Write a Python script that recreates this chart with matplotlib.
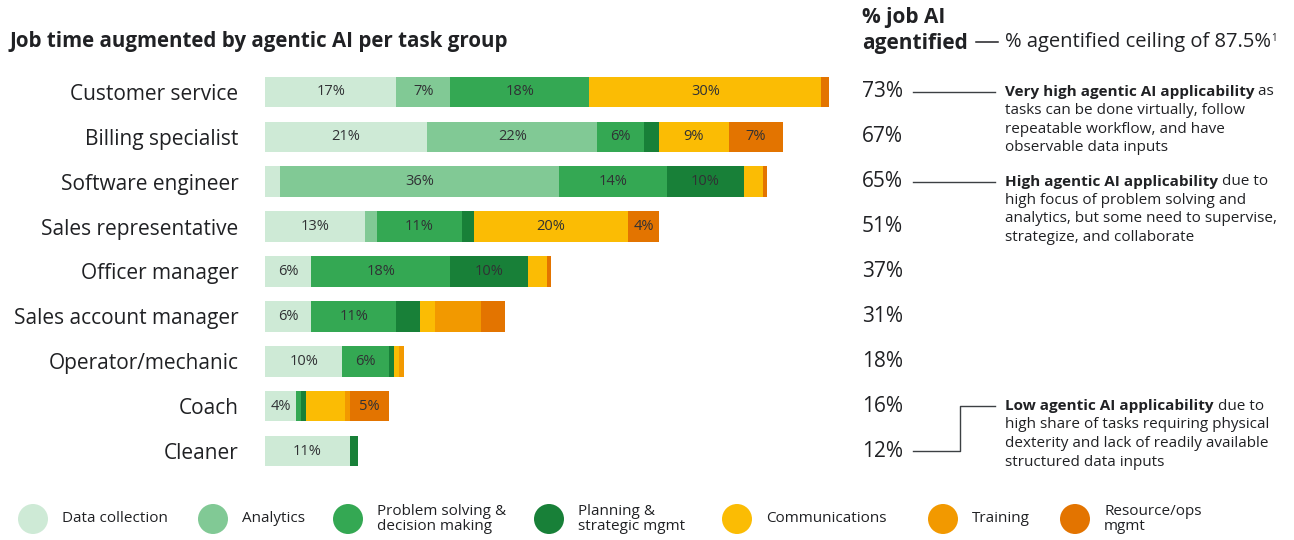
import matplotlib.pyplot as plt
import matplotlib.transforms as mtransforms
from matplotlib.patches import Ellipse

# job rows, top to bottom
categories = ["Customer service", "Billing specialist", "Software engineer", "Sales representative",
              "Officer manager", "Sales account manager", "Operator/mechanic", "Coach", "Cleaner"]

# share of job time per task group (%)
data_collection = [17, 21, 2, 13, 6, 6, 10, 4, 11]
analytics = [7, 22, 36, 1.5, 0, 0, 0, 0, 0]
problem_solving = [18, 6, 14, 11, 18, 11, 6, 0.7, 0]
planning = [0, 2, 10, 1.5, 10, 3, 0.7, 0.6, 1]
communications = [30, 9, 2.5, 20, 2.5, 2, 0.7, 5, 0]
training = [0, 0, 0, 0, 0, 6, 0.6, 0.7, 0]
resource_ops = [1, 7, 0.5, 4, 0.5, 3, 0, 5, 0]

job_ai_pct = [73, 67, 65, 51, 37, 31, 18, 16, 12]

group_names = ["Data collection", "Analytics", "Problem solving &\ndecision making", "Planning &\nstrategic mgmt",
               "Communications", "Training", "Resource/ops\nmgmt"]
group_colors = ["#CEEAD6", "#81C995", "#34A853", "#188038", "#FBBC04", "#F29900", "#E37400"]
series = [data_collection, analytics, problem_solving, planning, communications, training, resource_ops]

# rows where the segment carries a value label, per group
labeled_rows = [[0, 1, 3, 4, 5, 6, 7, 8], [0, 1, 2], [0, 1, 2, 3, 4, 5, 6], [2, 4], [0, 1, 3], [], [1, 3, 7]]

notes = [
    (0, "Very high agentic AI applicability", " as",
     ["tasks can be done virtually, follow", "repeatable workflow, and have", "observable data inputs"]),
    (2, "High agentic AI applicability", " due to",
     ["high focus of problem solving and", "analytics, but some need to supervise,", "strategize, and collaborate"]),
    (7, "Low agentic AI applicability", " due to",
     ["high share of tasks requiring physical", "dexterity and lack of readily available", "structured data inputs"]),
]

plt.rcParams['font.family'] = ['Open Sans', 'DejaVu Sans']
DARK = "#202124"
W, H = 1294, 540


def fx(px):
    return px / W


def fy(py):
    return 1 - py / H


fig = plt.figure(figsize=(W / 100, H / 100), dpi=100)
ax = fig.add_axes([fx(265), fy(473.5), 564 / W, 404 / H])

rows = list(range(len(categories)))
left = [0] * len(categories)
for vals, color, shown in zip(series, group_colors, labeled_rows):
    ax.barh(rows, vals, left=left, height=0.68, color=color, linewidth=0)
    for i in shown:
        ax.text(left[i] + vals[i] / 2, i, f"{vals[i]:g}%", ha="center", va="center",
                fontsize=10.5, color="#303134")
    left = [a + b for a, b in zip(left, vals)]

ax.set_xlim(0, 73)
ax.set_ylim(len(categories) - 0.5, -0.5)
ax.set_yticks(rows, categories, fontsize=15, color=DARK)
ax.tick_params(axis="y", length=0, pad=19)
ax.set_xticks([])
for s in ax.spines.values():
    s.set_visible(False)

fig.text(fx(10), fy(42), "Job time augmented by agentic AI per task group", fontsize=14.8,
         fontweight="bold", color=DARK, va="center")

# right column: % job agentified
trans = mtransforms.blended_transform_factory(fig.transFigure, ax.transData)
for i, p in enumerate(job_ai_pct):
    ax.text(fx(862), i, f"{p}%", transform=trans, ha="left", va="center", fontsize=15, color=DARK)

fig.text(fx(862), fy(17), "% job AI", fontsize=15, fontweight="bold", color=DARK, va="center")
fig.text(fx(862), fy(43), "agentified", fontsize=15, fontweight="bold", color=DARK, va="center")
fig.add_artist(plt.Line2D([fx(976), fx(998)], [fy(42), fy(42)], color=DARK, lw=1.1))
ceil_txt = fig.text(fx(1005), fy(42), "% agentified ceiling of 87.5%", fontsize=14.5, color=DARK, va="center")
ax.annotate("1", xy=(1, 0.95), xycoords=ceil_txt, fontsize=7, color=DARK, va="top", ha="left")

# annotation connectors
line_kw = dict(transform=trans, color="#3c4043", lw=1, clip_on=False)
ax.plot([fx(913), fx(995)], [0, 0], **line_kw)
ax.plot([fx(913), fx(995)], [2, 2], **line_kw)
ax.plot([fx(913), fx(960), fx(960), fx(995)], [8, 8, 7, 7], **line_kw)

for row, bold, rest, lines in notes:
    t = ax.text(fx(1005), row, bold, transform=trans, fontsize=11, fontweight="bold",
                color=DARK, va="center", ha="left")
    ax.annotate(rest, xy=(1, 0.5), xycoords=t, fontsize=11, color=DARK, va="center", ha="left")
    for k, line in enumerate(lines):
        ax.text(fx(1005), row + (k + 1) * 0.415, line, transform=trans, fontsize=11,
                color=DARK, va="center", ha="left")

# legend
legend_x = [33, 213, 348, 549, 737, 943, 1075]
for cx, name, color in zip(legend_x, group_names, group_colors):
    fig.add_artist(Ellipse((fx(cx), fy(519)), 30 / W, 30 / H, transform=fig.transFigure,
                           color=color, lw=0))
    fig.text(fx(cx + 29), fy(519), name, fontsize=11, color=DARK, va="center", ha="left",
             linespacing=1.0)

fig.savefig("out.png", dpi=100, facecolor="white")
